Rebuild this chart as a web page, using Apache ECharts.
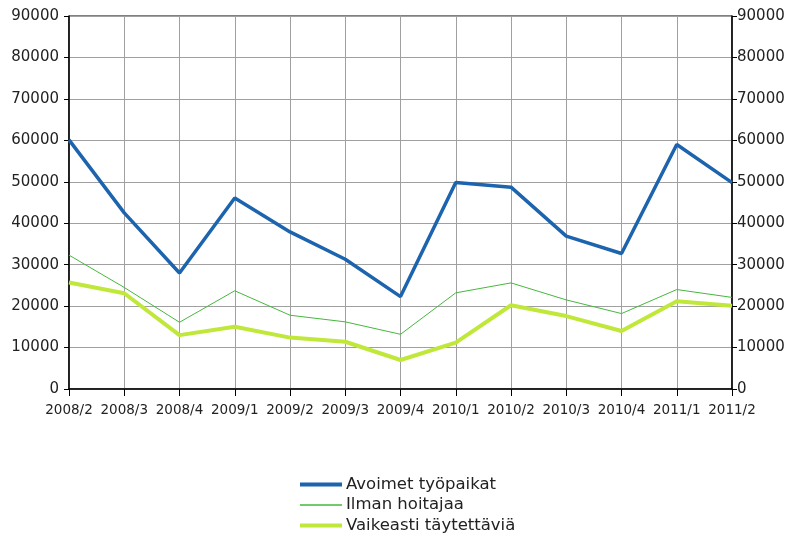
<!DOCTYPE html>
<html>
<head>
<meta charset="utf-8">
<script src="https://cdn.jsdelivr.net/npm/echarts@6/dist/echarts.min.js"></script>
<style>html,body{margin:0;padding:0;background:#fff}#c{width:791px;height:538px}</style>
</head>
<body>
<div id="c"></div>
<script>
var categories = ['2008/2','2008/3','2008/4','2009/1','2009/2','2009/3','2009/4','2010/1','2010/2','2010/3','2010/4','2011/1','2011/2'];
var avoimet = [60100, 42500, 28000, 46100, 37900, 31300, 22300, 49800, 48700, 36900, 32700, 59000, 49800];
var ilman = [32300, 24500, 16100, 23700, 17800, 16200, 13200, 23200, 25600, 21500, 18200, 24000, 22100];
var vaikeasti = [25700, 23100, 13000, 15000, 12400, 11400, 7000, 11200, 20200, 17600, 14000, 21200, 20100];
var yTicks = [0, 10000, 20000, 30000, 40000, 50000, 60000, 70000, 80000, 90000];

var chart = echarts.init(document.getElementById('c'));
var fontFam = 'DejaVu Sans';
function fmt(v) { return String(v); }
chart.setOption({
  animation: false,
  grid: { left: 69, right: 59, top: 16, bottom: 149, show: true, borderColor: '#000', borderWidth: 1 },
  legend: {
    orient: 'vertical', left: 298, top: 476, padding: 0, itemWidth: 42, itemHeight: 14, itemGap: 3.5,
    itemStyle: { opacity: 0 },
    textStyle: { fontFamily: fontFam, fontSize: 16.5, color: '#222', padding: [0,0,0,-1] },
    data: [
      { name: 'Avoimet työpaikat', lineStyle: { width: 4 } },
      { name: 'Ilman hoitajaa', lineStyle: { width: 1.5 } },
      { name: 'Vaikeasti täytettäviä', lineStyle: { width: 4 } }
    ]
  },
  xAxis: {
    type: 'category', data: categories, boundaryGap: false,
    axisLine: { lineStyle: { color: '#000', width: 1.5 } },
    axisTick: { show: true, length: 7, lineStyle: { color: '#000' }, alignWithLabel: true },
    axisLabel: { fontFamily: fontFam, fontSize: 13.5, color: '#222', margin: 14, interval: 0 },
    splitLine: { show: true, lineStyle: { color: '#a0a0a0', width: 1 } }
  },
  yAxis: [{
    type: 'value', min: yTicks[0], max: yTicks[yTicks.length-1], interval: 10000,
    axisLine: { show: true, lineStyle: { color: '#000', width: 1.5 } },
    axisTick: { show: true, length: 5, lineStyle: { color: '#000' } },
    axisLabel: { fontFamily: fontFam, fontSize: 15, color: '#222', margin: 10, formatter: fmt },
    splitLine: { show: true, lineStyle: { color: '#a0a0a0', width: 1 } }
  }, {
    type: 'value', min: yTicks[0], max: yTicks[yTicks.length-1], interval: 10000, position: 'right',
    axisLine: { show: true, lineStyle: { color: '#000', width: 1.5 } },
    axisTick: { show: true, length: 5, lineStyle: { color: '#000' } },
    axisLabel: { fontFamily: fontFam, fontSize: 15, color: '#222', margin: 5, formatter: fmt },
    splitLine: { show: false }
  }],
  series: [
    { name: 'Avoimet työpaikat', type: 'line', data: avoimet, symbol: 'none', z: 5,
      lineStyle: { color: '#1c64ad', width: 3.5 }, itemStyle: { color: '#1c64ad' } },
    { name: 'Ilman hoitajaa', type: 'line', data: ilman, symbol: 'none', z: 3,
      lineStyle: { color: '#45b83c', width: 1 }, itemStyle: { color: '#45b83c' } },
    { name: 'Vaikeasti täytettäviä', type: 'line', data: vaikeasti, symbol: 'none', z: 4,
      lineStyle: { color: '#c0e83a', width: 4 }, itemStyle: { color: '#c0e83a' } }
  ]
});
</script>
</body>
</html>
